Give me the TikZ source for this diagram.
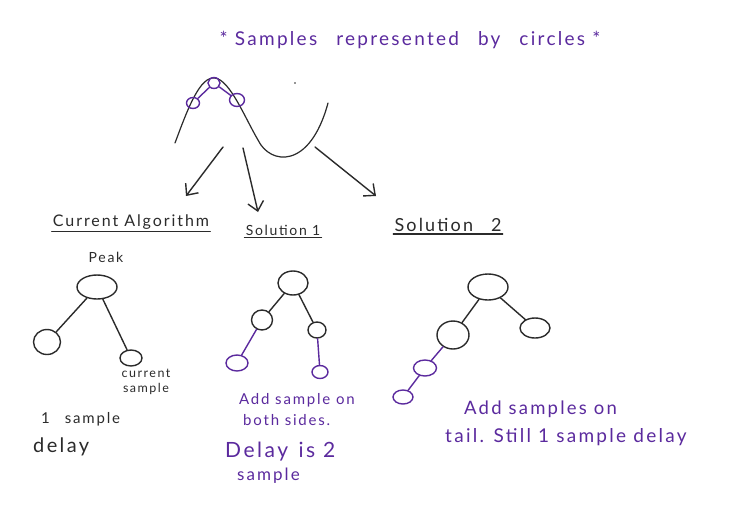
\documentclass[tikz,border=0pt]{standalone}
\usepackage{fontspec}
\setmainfont{Lato}
\usetikzlibrary{shapes.geometric,arrows.meta}
\definecolor{pen}{HTML}{5B2A9E}
\definecolor{ink}{HTML}{2B2B2B}
\newfontfamily\handfont[LetterSpace=12]{Lato}
\tikzset{
  inkline/.style={draw=ink, line width=1.4pt, line cap=round},
  penline/.style={draw=pen, line width=1.4pt, line cap=round},
  inkcirc/.style={ellipse, draw=ink, line width=1.4pt, inner sep=0pt},
  pencirc/.style={ellipse, draw=pen, line width=1.4pt, inner sep=0pt},
  arrowline/.style={draw=ink, line width=1.4pt, line cap=round, -{Straight Barb[length=9pt,width=16pt,line width=1.4pt]}},
  inktext/.style={text=ink, inner sep=1pt},
  pentext/.style={text=pen, inner sep=1pt},
}
\begin{document}
\begin{tikzpicture}[x=1pt,y=-1pt]
\fill[white] (0,0) rectangle (730,514);
\useasboundingbox (0,0) rectangle (730,514);

% title
\node[pentext, font=\handfont\fontsize{19}{22}\selectfont] (title) at (410,40) {* Samples\quad represented\quad by\quad circles *};

% top curve
\coordinate (k0) at (175,143);
\coordinate (k1) at (215,78);
\coordinate (k2) at (258,140);
\coordinate (k3) at (328,103);
\draw[inkline, line width=1.2pt] (k0) .. controls (188,108) and (200,76) .. (k1)
  .. controls (230,80) and (245,118) .. (k2)
  .. controls (270,165) and (310,170) .. (k3);
\node[pencirc, minimum width=13pt, minimum height=11pt] (c1) at (193,103) {};
\node[pencirc, minimum width=12pt, minimum height=11pt] (c2) at (214,83) {};
\node[pencirc, minimum width=15pt, minimum height=13pt] (c3) at (237,100) {};
\draw[penline] (c1) -- (c2);
\draw[penline] (c2) -- (c3);
\coordinate (dot) at (295,83);
\fill[ink] (dot) circle (0.8pt);

% arrows
\coordinate (a1s) at (223,147);
\coordinate (a1e) at (186,196);
\coordinate (a2s) at (243,148);
\coordinate (a2e) at (258,212);
\coordinate (a3s) at (315,147);
\coordinate (a3e) at (376,196);
\draw[arrowline] (a1s) -- (a1e);
\draw[arrowline] (a2s) -- (a2e);
\draw[arrowline] (a3s) -- (a3e);

% headings
\node[inktext, font=\handfont\fontsize{16}{19}\selectfont] (ca) at (131,222) {Current Algorithm};
\draw[inkline] ([yshift=-1pt]ca.south west) -- ([yshift=-1pt]ca.south east);
\node[inktext, font=\handfont\fontsize{14}{17}\selectfont] (s1) at (283,230) {Solution 1};
\draw[inkline] ([yshift=-1pt]s1.south west) -- ([yshift=-1pt]s1.south east);
\node[inktext, font=\handfont\fontsize{18}{21}\selectfont] (s2) at (448,225) {Solution\quad 2};
\draw[inkline] ([yshift=-1pt]s2.south west) -- ([yshift=-1pt]s2.south east);

% tree 1
\node[inktext, font=\handfont\fontsize{14}{17}\selectfont] (peak) at (106,257) {Peak};
\node[inkcirc, minimum width=40pt, minimum height=24pt] (t1r) at (97,287) {};
\node[inkcirc, minimum width=27pt, minimum height=25pt] (t1l) at (47,342) {};
\node[inkcirc, minimum width=22pt, minimum height=16pt] (t1c) at (131,358) {};
\draw[inkline] (t1r) -- (t1l);
\draw[inkline] (t1r) -- (t1c);
\node[inktext, font=\handfont\fontsize{12.5}{15}\selectfont, align=center] (cur) at (146,382) {current\\sample};
\node[inktext, font=\handfont\fontsize{15}{18}\selectfont, anchor=west] (one) at (40,419) {1\quad sample};
\node[inktext, font=\handfont\fontsize{20}{24}\selectfont, anchor=west] (dl) at (32,447) {delay};

% tree 2
\node[inkcirc, minimum width=30pt, minimum height=24pt] (t2r) at (293,283) {};
\node[inkcirc, minimum width=21pt, minimum height=20pt] (t2a) at (262,320) {};
\node[inkcirc, minimum width=18pt, minimum height=16pt] (t2b) at (317,330) {};
\node[pencirc, minimum width=22pt, minimum height=16pt] (t2c) at (237,363) {};
\node[pencirc, minimum width=16pt, minimum height=13pt] (t2d) at (320,372) {};
\draw[inkline] (t2r) -- (t2a);
\draw[inkline] (t2r) -- (t2b);
\draw[penline] (t2a) -- (t2c);
\draw[penline] (t2b) -- (t2d);
\node[pentext, font=\handfont\fontsize{15}{18}\selectfont, anchor=west] (p1) at (238,400) {Add sample on};
\node[pentext, font=\handfont\fontsize{15}{18}\selectfont, anchor=west] (p2) at (242,420) {both sides.};
\node[pentext, font=\handfont\fontsize{21}{25}\selectfont, anchor=west] (p3) at (224,452) {Delay\enspace is 2};
\node[pentext, font=\handfont\fontsize{17}{20}\selectfont, anchor=west] (p4) at (236,476) {sample};

% tree 3
\node[inkcirc, minimum width=40pt, minimum height=26pt] (t3r) at (488,287) {};
\node[inkcirc, minimum width=30pt, minimum height=20pt] (t3b) at (535,328) {};
\node[inkcirc, minimum width=32pt, minimum height=28pt] (t3a) at (453,335) {};
\node[pencirc, minimum width=23pt, minimum height=16pt] (t3c) at (425,368) {};
\node[pencirc, minimum width=20pt, minimum height=14pt] (t3d) at (403,397) {};
\draw[inkline] (t3r) -- (t3a);
\draw[inkline] (t3r) -- (t3b);
\draw[penline] (t3a) -- (t3c);
\draw[penline] (t3c) -- (t3d);
\node[pentext, font=\handfont\fontsize{18.5}{22}\selectfont, anchor=west] (q1) at (463,409) {Add samples on};
\node[pentext, font=\handfont\fontsize{19}{22}\selectfont, anchor=west] (q2) at (444,437) {tail. Still 1 sample delay};
\end{tikzpicture}
\end{document}
